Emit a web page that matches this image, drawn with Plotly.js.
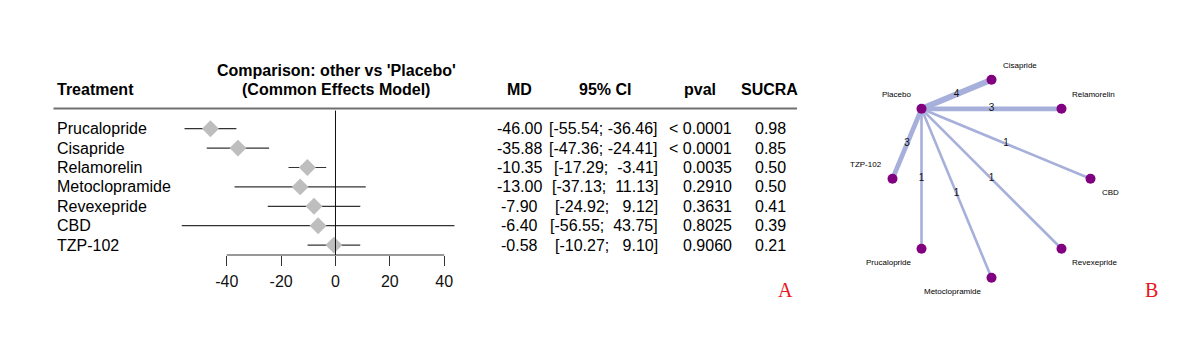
<!DOCTYPE html>
<html>
<head>
<meta charset="utf-8">
<script src="https://cdn.plot.ly/plotly-3.0.1.min.js"></script>
<style>html,body{margin:0;padding:0;background:#fff;}#chart{width:1182px;height:348px;}</style>
</head>
<body>
<div id="chart"></div>
<script>
// ---------- DATA ----------
const treatments = ["Prucalopride","Cisapride","Relamorelin","Metoclopramide","Revexepride","CBD","TZP-102"];
const md      = [-46.00, -35.88, -10.35, -13.00, -7.90, -6.40, -0.58];
const ciLow   = [-55.54, -47.36, -17.29, -37.13, -24.92, -56.55, -10.27];
const ciHigh  = [-36.46, -24.41,  -3.41,  11.13,   9.12,  43.75,   9.10];
const pval    = ["< 0.0001","< 0.0001","0.0035","0.2910","0.3631","0.8025","0.9060"];
const sucra   = [0.98, 0.85, 0.50, 0.50, 0.41, 0.39, 0.21];
const xTicks  = [-40, -20, 0, 20, 40];

const netNodes = ["Placebo","Cisapride","Relamorelin","CBD","Revexepride","Metoclopramide","Prucalopride","TZP-102"];
const netX = [-0.707, 0, 0.707, 1, 0.707, 0, -0.707, -1];
const netY = [0.707, 1, 0.707, 0, -0.707, -1, -0.707, 0];
const edgeFrom = ["Placebo","Placebo","Placebo","Placebo","Placebo","Placebo","Placebo"];
const edgeTo   = ["Cisapride","Relamorelin","CBD","Revexepride","Metoclopramide","Prucalopride","TZP-102"];
const edgeStudies = [4, 3, 1, 1, 1, 1, 3];

// ---------- STYLE / LAYOUT ----------
const W = 1182, H = 348;
const FONT = "Liberation Sans, Arial, Helvetica, sans-serif";
const px = p => p / W;
const py = p => (H - p) / H;
const nb = s => s.replace(/ /g, "\u00A0");
const labelDir = [[-1,1],[1,1],[1,1],[1,-1],[1,-1],[-1,-1],[-1,-1],[-1,1]];
const edgeColor = "#a7b0da";
const nodeColor = "#800080";

const traces = [];
// forest: diamonds with CI whiskers
traces.push({
  type: "scatter", mode: "markers", xaxis: "x", yaxis: "y",
  x: md, y: treatments,
  marker: {symbol: "diamond", size: 13, color: "#bebebe", line: {width: 0}},
  error_x: {type: "data", symmetric: false,
            array: ciHigh.map((h, i) => h - md[i]),
            arrayminus: ciLow.map((l, i) => md[i] - l),
            width: 0, thickness: 1.2, color: "#333333"},
  hoverinfo: "skip", showlegend: false
});

// network edges
const idx = n => netNodes.indexOf(n);
edgeTo.forEach((t, k) => {
  const a = idx(edgeFrom[k]), b = idx(t);
  traces.push({
    type: "scatter", mode: "lines", xaxis: "x2", yaxis: "y2",
    x: [netX[a], netX[b]], y: [netY[a], netY[b]],
    line: {color: edgeColor, width: 1.5 + 1.1 * edgeStudies[k]},
    hoverinfo: "skip", showlegend: false
  });
});
// edge labels
traces.push({
  type: "scatter", mode: "text", xaxis: "x2", yaxis: "y2",
  x: edgeTo.map((t, k) => (netX[idx(edgeFrom[k])] + netX[idx(t)]) / 2),
  y: edgeTo.map((t, k) => (netY[idx(edgeFrom[k])] + netY[idx(t)]) / 2),
  text: edgeStudies.map(String),
  textfont: {family: FONT, size: 10, color: "#111"},
  hoverinfo: "skip", showlegend: false
});
// nodes
traces.push({
  type: "scatter", mode: "markers", xaxis: "x2", yaxis: "y2",
  x: netX, y: netY,
  marker: {size: 10, color: nodeColor, line: {width: 0}},
  hoverinfo: "skip", showlegend: false
});

const ann = [];
const baseFont = {family: FONT, size: 16, color: "#000"};
function addA(o) { ann.push(Object.assign({showarrow: false, borderpad: 0, borderwidth: 0, font: baseFont}, o)); }

// headers
addA({xref: "paper", yref: "paper", x: px(57), y: py(90), xanchor: "left", yanchor: "middle", text: "<b>Treatment</b>"});
addA({xref: "paper", yref: "paper", x: px(336), y: py(70), xanchor: "center", yanchor: "middle", text: "<b>Comparison: other vs 'Placebo'</b>"});
addA({xref: "paper", yref: "paper", x: px(336), y: py(90), xanchor: "center", yanchor: "middle", text: "<b>(Common Effects Model)</b>"});
addA({xref: "paper", yref: "paper", x: px(519), y: py(90), xanchor: "center", yanchor: "middle", text: "<b>MD</b>"});
addA({xref: "paper", yref: "paper", x: px(605), y: py(90), xanchor: "center", yanchor: "middle", text: "<b>95% CI</b>"});
addA({xref: "paper", yref: "paper", x: px(700), y: py(90), xanchor: "center", yanchor: "middle", text: "<b>pval</b>"});
addA({xref: "paper", yref: "paper", x: px(769), y: py(90), xanchor: "center", yanchor: "middle", text: "<b>SUCRA</b>"});

// rows
treatments.forEach((t, i) => {
  addA({xref: "paper", yref: "y", x: px(57), y: t, xanchor: "left", yanchor: "middle", text: t});
  addA({xref: "paper", yref: "y", x: px(519), y: t, xanchor: "center", yanchor: "middle", text: md[i].toFixed(2)});
  const ci = "[" + ciLow[i].toFixed(2).padStart(6) + "; " + ciHigh[i].toFixed(2).padStart(6) + "]";
  addA({xref: "paper", yref: "y", x: px(658), y: t, xanchor: "right", yanchor: "middle", text: nb(ci)});
  addA({xref: "paper", yref: "y", x: px(732), y: t, xanchor: "right", yanchor: "middle", text: pval[i]});
  addA({xref: "paper", yref: "y", x: px(770.5), y: t, xanchor: "center", yanchor: "middle", text: sucra[i].toFixed(2)});
});

// network node labels
netNodes.forEach((n, i) => {
  addA({xref: "x2", yref: "y2", x: netX[i], y: netY[i],
        xanchor: labelDir[i][0] < 0 ? "right" : "left", yanchor: "middle",
        xshift: 11 * labelDir[i][0], yshift: 14 * labelDir[i][1],
        text: n, font: {family: FONT, size: 8, color: "#000"}});
});

// panel letters
const letterFont = {family: "Liberation Serif, Times New Roman, serif", size: 20, color: "#e8161e"};
addA({xref: "paper", yref: "paper", x: px(785), y: py(289.5), xanchor: "center", yanchor: "middle", text: "A", font: letterFont});
addA({xref: "paper", yref: "paper", x: px(1151), y: py(289.5), xanchor: "center", yanchor: "middle", text: "B", font: letterFont});

const shapes = [
  // header rule
  {type: "line", xref: "paper", yref: "paper", x0: px(53.5), x1: px(797), y0: py(108.5), y1: py(108.5),
   line: {color: "#707070", width: 2}},
  // x axis line from first to last tick
  {type: "line", xref: "x", yref: "y domain", x0: xTicks[0], x1: xTicks[xTicks.length - 1], y0: 0, y1: 0,
   line: {color: "#333", width: 1}},
  // reference line at 0
  {type: "line", xref: "x", yref: "y domain", x0: 0, x1: 0, y0: 0, y1: 0.986,
   line: {color: "#111", width: 1}}
];

const xr0 = 172.4, xr1 = 471.4; // pixel span of forest x-domain
const layout = {
  width: W, height: H,
  margin: {l: 0, r: 0, t: 0, b: 0},
  paper_bgcolor: "#fff", plot_bgcolor: "rgba(0,0,0,0)",
  showlegend: false,
  font: {family: FONT, size: 16, color: "#000"},
  xaxis: {domain: [px(xr0), px(xr1)], range: [-60, 50], anchor: "y",
          tickvals: xTicks, ticktext: xTicks.map(String),
          ticks: "outside", ticklen: 9.5, tickwidth: 1, tickcolor: "#333",
          ticklabelstandoff: 2,
          showline: false, showgrid: false, zeroline: false, fixedrange: true,
          tickfont: {family: FONT, size: 16, color: "#111"}},
  yaxis: {domain: [py(255), py(108.5)], type: "category", categoryarray: treatments,
          range: [6.51, -1.041], visible: false, fixedrange: true},
  xaxis2: {domain: [px(843), px(1140)], range: [-1.5, 1.5], anchor: "y2", visible: false, fixedrange: true},
  yaxis2: {domain: [py(327.3), py(30.3)], range: [-1.5, 1.5], anchor: "x2", visible: false, fixedrange: true},
  annotations: ann,
  shapes: shapes
};

Plotly.newPlot("chart", traces, layout, {staticPlot: true, displayModeBar: false});
</script>
</body>
</html>
